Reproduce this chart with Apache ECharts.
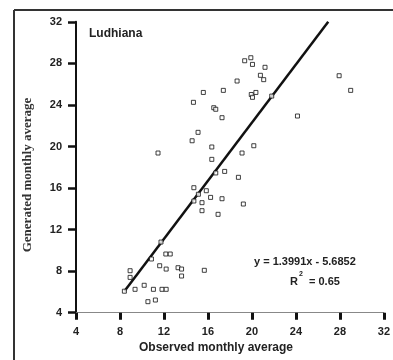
<!DOCTYPE html>
<html>
<head>
<meta charset="utf-8">
<script src="https://cdn.jsdelivr.net/npm/echarts@6/dist/echarts.min.js"></script>
<style>
  html, body { margin: 0; padding: 0; background: #fff; }
  #graph { width: 393px; height: 360px; }
</style>
</head>
<body>
<div id="graph"></div>
<script>
// observed (x) vs generated (y) monthly averages
let observed = [8.4, 8.92, 8.92, 9.37, 10.2, 10.54, 11.22, 10.86, 11.04, 11.82,
	12.2, 11.61, 12.2, 12.17, 12.57, 11.73, 13.28, 13.6, 13.6, 15.67,
	15.1, 14.56, 11.46, 16.35, 16.35, 19.1, 16.71, 17.52, 18.77, 14.72,
	15.13, 15.85, 14.72, 15.46, 16.24, 17.28, 15.46, 16.92, 19.22, 19.34,
	19.9, 20.05, 21.19, 20.77, 21.07, 18.65, 17.4, 15.58, 14.68, 19.94,
	20.05, 20.36, 16.53, 16.71, 17.28, 21.8, 27.93, 28.98, 24.14, 20.17];
let generated = [6.07, 8.04, 7.4, 6.25, 6.64, 5.06, 5.22, 9.17, 6.25, 6.25,
	6.25, 8.52, 8.2, 9.65, 9.65, 10.8, 8.33, 8.2, 7.53, 8.08,
	21.36, 20.55, 19.37, 19.95, 18.76, 19.37, 17.45, 17.6, 17.03, 16.03,
	15.4, 15.74, 14.75, 14.59, 15.1, 14.97, 13.82, 13.47, 14.46, 28.25,
	28.54, 27.9, 27.62, 26.85, 26.43, 26.3, 25.4, 25.2, 24.25, 25.0,
	24.73, 25.2, 23.73, 23.58, 22.77, 24.85, 26.81, 25.4, 22.93, 20.07];

// trend line ends, as drawn
let trendX = [8.4, 26.94];
let trendY = [6.07, 32];

let axisTicks = [4, 8, 12, 16, 20, 24, 28, 32];

let points = observed.map((x, i) => [x, generated[i]]);
let trend = trendX.map((x, i) => [x, trendY[i]]);

var myChart = echarts.init(document.getElementById('graph'), null, {
	width: 393,
	height: 360,
});

let tickFont = {
	fontFamily: 'Liberation Sans, Arial, sans-serif',
	fontWeight: 'bold',
	fontSize: 11,
	color: '#222'
};

let option = {
	animation: false,
	backgroundColor: '#fff',
	grid: { left: 76, top: 21.8, right: 3.7, bottom: 47.3, containLabel: false },
	xAxis: {
		type: 'value',
		min: axisTicks[0],
		max: axisTicks[axisTicks.length - 1],
		interval: 4,
		splitLine: { show: false },
		axisLine: { show: true, onZero: false, lineStyle: { color: '#888', width: 1 } },
		axisTick: { show: true, length: 7, lineStyle: { color: '#111', width: 3 } },
		axisLabel: Object.assign({ margin: 14 }, tickFont)
	},
	yAxis: {
		type: 'value',
		min: axisTicks[0],
		max: axisTicks[axisTicks.length - 1],
		interval: 4,
		splitLine: { show: false },
		axisLine: { show: true, onZero: false, lineStyle: { color: '#111', width: 2 } },
		axisTick: { show: true, length: 8, lineStyle: { color: '#111', width: 2.5 } },
		axisLabel: Object.assign({ margin: 14 }, tickFont)
	},
	series: [
		{
			type: 'line',
			data: trend,
			symbol: 'none',
			lineStyle: { color: '#111', width: 2.5 },
			z: 2
		},
		{
			type: 'scatter',
			data: points,
			symbol: 'rect',
			symbolSize: 4,
			itemStyle: { color: '#fff', borderColor: '#111', borderWidth: 1 },
			z: 3
		}
	],
	graphic: [
		// frame lines
		{ type: 'line', shape: { x1: 14, y1: 10, x2: 393, y2: 10 }, style: { stroke: '#333', lineWidth: 2 } },
		{ type: 'line', shape: { x1: 14, y1: 10, x2: 14, y2: 360 }, style: { stroke: '#333', lineWidth: 2 } },
		{
			type: 'text', left: 89, top: 28,
			style: { text: 'Ludhiana', font: 'bold 12px Liberation Sans, Arial, sans-serif', fill: '#222' }
		},
		{
			type: 'text', x: 28, y: 175, rotation: Math.PI / 2,
			style: {
				text: 'Generated monthly average', font: 'bold 13px Liberation Serif, Times New Roman, serif',
				fill: '#333', align: 'center', verticalAlign: 'middle'
			}
		},
		{
			type: 'text', x: 216, y: 348,
			style: {
				text: 'Observed monthly average', font: 'bold 12px Liberation Sans, Arial, sans-serif',
				fill: '#222', align: 'center', verticalAlign: 'middle'
			}
		},
		{
			type: 'text', x: 254, y: 262,
			style: {
				text: 'y = 1.3991x - 5.6852', font: 'bold 11px Liberation Sans, Arial, sans-serif',
				fill: '#222', verticalAlign: 'middle'
			}
		},
		{
			type: 'text', x: 290, y: 281.5,
			style: { text: 'R', font: 'bold 11px Liberation Sans, Arial, sans-serif', fill: '#222', verticalAlign: 'middle' }
		},
		{
			type: 'text', x: 299, y: 274,
			style: { text: '2', font: 'bold 7px Liberation Sans, Arial, sans-serif', fill: '#222', verticalAlign: 'middle' }
		},
		{
			type: 'text', x: 309, y: 281.5,
			style: { text: '= 0.65', font: 'bold 11px Liberation Sans, Arial, sans-serif', fill: '#222', verticalAlign: 'middle' }
		}
	]
};

myChart.setOption(option, true);
</script>
</body>
</html>
